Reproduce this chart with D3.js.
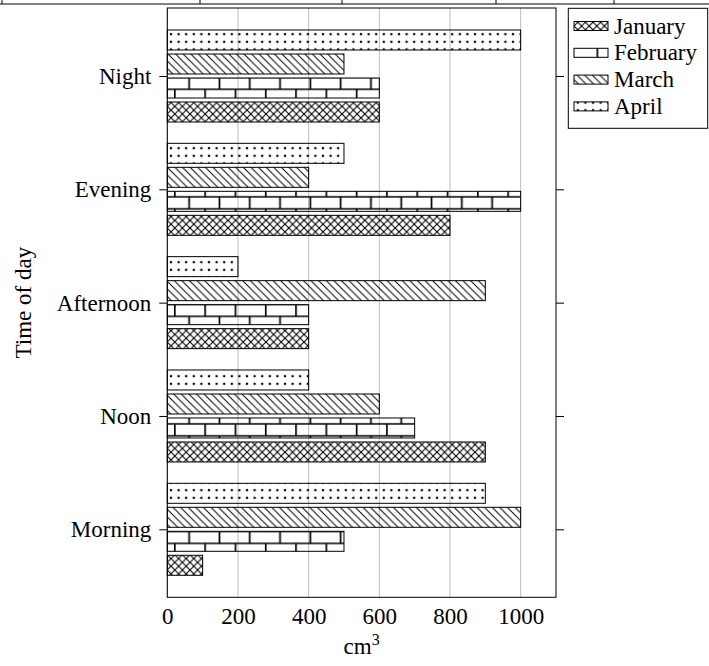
<!DOCTYPE html>
<html>
<head>
<meta charset="utf-8">
<script src="https://cdn.jsdelivr.net/npm/d3@7"></script>
<style>
  body { margin: 0; background: #fff; }
  text { font-family: "Liberation Serif", "DejaVu Serif", serif; fill: #000; }
</style>
</head>
<body>
<script>
let width = 709;
let height = 666;

// data
const categories = ["Morning", "Noon", "Afternoon", "Evening", "Night"];
const seriesNames = ["January", "February", "March", "April"];
const january = [100, 900, 400, 800, 600];
const february = [500, 700, 400, 1000, 600];
const march = [1000, 600, 900, 400, 500];
const april = [900, 400, 200, 500, 1000];
const xTicks = [0, 200, 400, 600, 800, 1000];

const seriesValues = [january, february, march, april];
const patternIds = ["crosshatch", "bricks", "nwlines", "dots"];

// plot box
let plotLeft = 167.3, plotRight = 556, plotTop = 8, plotBottom = 597.3;
const fontSize = "23px";

let svg = d3.select("body")
  .append("svg")
  .attr("width", width)
  .attr("height", height);

// patterns
let defs = svg.append("defs");
const p = 7.6;

let ch = defs.append("pattern")
  .attr("id", "crosshatch")
  .attr("patternUnits", "userSpaceOnUse")
  .attr("width", p).attr("height", p);
ch.append("path")
  .attr("d", `M0,0L${p},${p}M0,${p}L${p},0`)
  .attr("stroke", "#000").attr("stroke-width", 1.1).attr("fill", "none");

let nw = defs.append("pattern")
  .attr("id", "nwlines")
  .attr("patternUnits", "userSpaceOnUse")
  .attr("width", p).attr("height", p);
nw.append("path")
  .attr("d", `M0,0L${p},${p}M-1,${p - 1}L1,${p + 1}M${p - 1},-1L${p + 1},1`)
  .attr("stroke", "#000").attr("stroke-width", 1).attr("fill", "none");

let dots = defs.append("pattern")
  .attr("id", "dots")
  .attr("patternUnits", "userSpaceOnUse")
  .attr("width", p).attr("height", p);
dots.append("circle")
  .attr("cx", p / 2).attr("cy", p / 2).attr("r", 1.25)
  .attr("fill", "#000");

const bw = 30.3, bh = 11.95;
let br = defs.append("pattern")
  .attr("id", "bricks")
  .attr("patternUnits", "userSpaceOnUse")
  .attr("x", 143.7).attr("y", 89.3)
  .attr("width", bw).attr("height", 2 * bh);
br.append("path")
  .attr("d", `M0,0H${bw}M0,${bh}H${bw}M0,${2 * bh}H${bw}`)
  .attr("stroke", "#000").attr("stroke-width", 1.3).attr("fill", "none");
br.append("path")
  .attr("d", `M0.8,0V${bh}M${bw / 2},${bh}V${2 * bh}`)
  .attr("stroke", "#000").attr("stroke-width", 1.7).attr("fill", "none");

// cut-off table border at the very top
svg.append("line")
  .attr("x1", 0).attr("x2", width).attr("y1", 4).attr("y2", 4)
  .attr("stroke", "#000").attr("stroke-width", 1);
[2, 200, 342, 496, 614].forEach(x => {
  svg.append("line")
    .attr("x1", x).attr("x2", x).attr("y1", 0).attr("y2", 4)
    .attr("stroke", "#000").attr("stroke-width", 1);
});

// scales
let scaleX = d3.scaleLinear()
  .domain([0, 1100])
  .range([plotLeft, plotRight]);

let scaleY = d3.scaleLinear()
  .domain([-0.6, 4.6])
  .range([plotBottom, plotTop]);

// series offset inside a group, April on top, January at bottom
let scaleShift = d3.scaleBand()
  .domain(["April", "March", "February", "January"])
  .range([-48, 48]);

// grid
svg.append("g")
  .selectAll("line")
  .data(xTicks)
  .join("line")
  .attr("x1", d => scaleX(d)).attr("x2", d => scaleX(d))
  .attr("y1", plotTop).attr("y2", plotBottom)
  .attr("stroke", "#bdbdbd").attr("stroke-width", 1);

// bars
seriesNames.forEach((name, si) => {
  svg.append("g")
    .selectAll("rect")
    .data(seriesValues[si])
    .join("rect")
    .attr("x", scaleX(0))
    .attr("y", (d, i) => scaleY(i) + scaleShift(name) + 2)
    .attr("width", d => scaleX(d) - scaleX(0))
    .attr("height", scaleShift.bandwidth() - 4)
    .attr("fill", `url(#${patternIds[si]})`)
    .attr("stroke", "#000")
    .attr("stroke-width", 1);
});

// frame
svg.append("rect")
  .attr("x", plotLeft).attr("y", plotTop)
  .attr("width", plotRight - plotLeft).attr("height", plotBottom - plotTop)
  .attr("fill", "none").attr("stroke", "#000").attr("stroke-width", 1);

// y axis: ticks outside on both sides
let axisY = d3.axisLeft(scaleY)
  .tickValues(d3.range(categories.length))
  .tickFormat(i => categories[i])
  .tickSizeInner(8).tickSizeOuter(0).tickPadding(8);
let gy = svg.append("g")
  .attr("transform", `translate(${plotLeft}, 0)`)
  .call(axisY)
  .attr("font-family", null);
gy.select(".domain").remove();
gy.selectAll("text")
  .style("font-size", fontSize)
  .attr("dy", "0.33em");

let gyr = svg.append("g")
  .attr("transform", `translate(${plotRight}, 0)`)
  .call(d3.axisRight(scaleY).tickValues(d3.range(categories.length)).tickSizeInner(8).tickSizeOuter(0).tickFormat(""));
gyr.select(".domain").remove();

// x axis labels
let axisX = d3.axisBottom(scaleX)
  .tickValues(xTicks)
  .tickFormat(d3.format("d"))
  .tickSize(0).tickPadding(10);
let gx = svg.append("g")
  .attr("transform", `translate(0, ${plotBottom})`)
  .call(axisX)
  .attr("font-family", null);
gx.select(".domain").remove();
gx.selectAll("text")
  .style("font-size", fontSize)
  .attr("dy", "0.71em");

// axis titles
let xl = svg.append("text")
  .attr("x", (plotLeft + plotRight) / 2)
  .attr("y", 654)
  .attr("text-anchor", "middle")
  .style("font-size", fontSize);
xl.append("tspan").text("cm");
xl.append("tspan").attr("dy", -9).style("font-size", "16px").text("3");

svg.append("text")
  .attr("transform", `translate(31, ${(plotTop + plotBottom) / 2}) rotate(-90)`)
  .attr("text-anchor", "middle")
  .style("font-size", fontSize)
  .text("Time of day");

// legend
let legend = svg.append("g");
legend.append("rect")
  .attr("x", 568.3).attr("y", 8.3)
  .attr("width", 139.4).attr("height", 120)
  .attr("fill", "#fff").attr("stroke", "#000").attr("stroke-width", 1);

let rows = legend.selectAll("g.row")
  .data(seriesNames)
  .join("g")
  .attr("class", "row")
  .attr("transform", (d, i) => `translate(574, ${26 + i * 26.8})`);
rows.append("rect")
  .attr("x", 0).attr("y", -4.5)
  .attr("width", 34).attr("height", 9)
  .attr("fill", (d, i) => `url(#${patternIds[i]})`)
  .attr("stroke", "#000").attr("stroke-width", 1);
rows.append("text")
  .attr("x", 40)
  .attr("dy", "0.33em")
  .style("font-size", fontSize)
  .text(d => d);
</script>
</body>
</html>
